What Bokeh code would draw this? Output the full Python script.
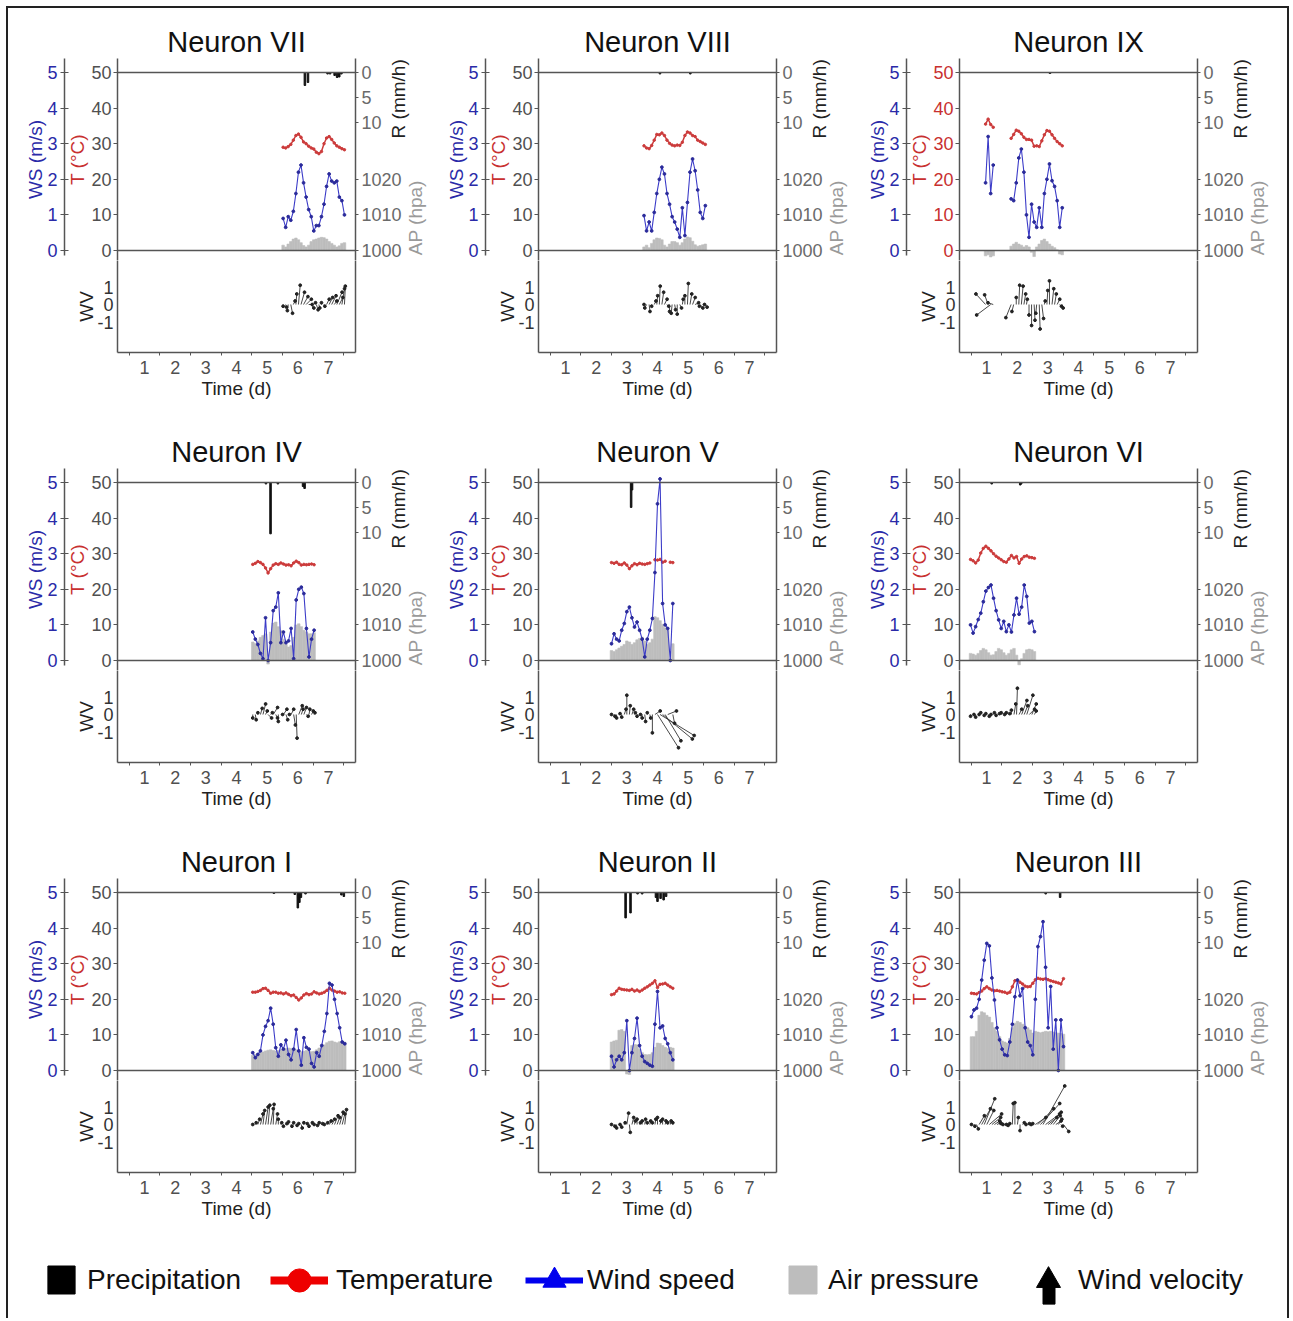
import math
import numpy as np
from bokeh.plotting import figure
from bokeh.models import Range1d, LinearAxis, FixedTicker, Span, Legend, LegendItem
from bokeh.layouts import column, row
from bokeh.embed import file_html
from bokeh.resources import INLINE

nan = float("nan")
STEP = 1.0 / 12.0   # 2-hour sampling, in days

# ---------------- data ----------------
# Neuron VII
VII_T0 = 5.52
VII_T = [29.0, 28.8, 29.2, 29.8, 31.0, 32.3, 32.7, 31.8, 30.5, 30.0, 29.3, 28.8, 28.5, 27.6, 27.2, 27.8, 30.0, 31.6, 32.0, 31.2, 30.2, 29.4, 29.0, 28.6, 28.3]
VII_WS = [0.9, 0.65, 0.95, 0.85, 1.1, 1.6, 2.2, 2.4, 1.9, 1.5, 1.15, 0.95, 0.55, 0.7, 0.7, 0.95, 1.3, 1.8, 2.15, 1.95, 1.9, 1.95, 1.5, 1.4, 1.0]
VII_AP = [1001.5, 1001.0, 1001.8, 1002.5, 1003.2, 1003.5, 1003.0, 1002.2, 1001.4, 1001.0, 1001.5, 1002.5, 1003.0, 1003.2, 1003.5, 1003.7, 1003.6, 1003.2, 1002.5, 1002.0, 1001.5, 1001.0, 1001.3, 1002.0, 1002.2]
VII_U = [0.0, 0.05, -0.05, 0.1, 0.1, 0.05, 0.1, 0.2, 0.25, 0.3, 0.2, 0.15, 0.1, 0.1, 0.05, 0.0, 0.05, 0.15, 0.2, 0.25, 0.15, 0.3, 0.2, 0.15, 0.05]
VII_V = [-0.1, -0.15, -0.35, -0.5, 0.2, 0.6, 1.1, 0.7, 0.45, 0.3, 0.0, -0.2, 0.1, -0.3, -0.2, 0.1, -0.1, 0.3, 0.4, 0.5, 0.2, 0.7, 0.4, 0.9, 1.05]
VII_RAIN_T = [6.23, 6.33, 6.97, 7.05, 7.20, 7.28, 7.35, 7.42]
VII_RAIN_R = [2.6, 2.0, 0.3, 0.3, 0.6, 1.0, 0.9, 0.3]

# Neuron VIII
VIII_T0 = 3.56
VIII_T = [29.4, 28.8, 28.6, 29.5, 31.0, 32.6, 32.5, 33.0, 32.3, 31.0, 30.1, 29.6, 29.4, 29.6, 29.5, 30.4, 32.3, 33.3, 33.0, 32.3, 32.0, 31.0, 30.6, 30.2, 29.8]
VIII_WS = [0.98, 0.55, 0.8, 0.55, 1.07, 1.6, 2.0, 2.34, 2.15, 1.6, 1.3, 0.95, 0.8, 0.6, 0.37, 1.2, 0.42, 1.35, 2.2, 2.57, 2.24, 1.7, 1.07, 0.9, 1.26]
VIII_AP = [1001.0, 1001.5, 1000.8, 1002.0, 1003.0, 1003.5, 1003.4, 1003.0, 1001.5, 1001.0, 1001.8, 1002.5, 1002.5, 1002.2, 1001.5, 1002.2, 1003.2, 1003.8, 1003.6, 1002.6, 1001.6, 1001.2, 1001.4, 1001.6, 1001.8]
VIII_U = [0.0, -0.1, 0.05, 0.0, 0.1, 0.05, 0.05, 0.1, 0.15, 0.1, 0.0, -0.05, 0.05, 0.0, 0.1, 0.05, 0.0, 0.05, 0.1, 0.15, 0.2, 0.1, 0.15, 0.1, 0.1]
VIII_V = [0.0, -0.2, -0.4, -0.1, 0.2, 0.5, 1.05, 0.7, 0.3, -0.1, -0.4, -0.5, -0.3, -0.55, -0.2, 0.3, 0.5, 1.2, 0.6, 0.4, 0.1, -0.1, -0.2, 0.0, -0.15]
VIII_RAIN_T = [4.08, 5.07]
VIII_RAIN_R = [0.3, 0.3]

# Neuron IX
IX_T0 = 0.97
IX_T = [35.5, 36.9, 35.4, 34.6, nan, nan, nan, nan, nan, nan, 31.5, 32.6, 33.8, 33.5, 32.8, 31.8, 31.2, 31.2, 31.0, 29.3, 29.4, 29.2, 30.8, 32.5, 33.7, 33.5, 32.5, 31.5, 30.6, 30.0, 29.4]
IX_WS = [1.9, 3.2, 1.6, 2.4, nan, nan, nan, nan, nan, nan, 1.45, 1.4, 1.9, 2.6, 2.85, 2.2, 1.0, 0.37, 1.3, 0.8, 0.65, 1.2, 0.65, 1.6, 2.0, 2.43, 1.96, 1.8, 1.4, 0.65, 1.2]
IX_AP = [998.5, 998.8, 998.2, 998.5, nan, nan, nan, nan, nan, nan, 1001.2, 1001.8, 1002.3, 1001.8, 1001.5, 1001.0, 1001.4, 1001.0, 999.5, 998.3, 1001.0, 1001.8, 1002.8, 1003.2, 1002.5, 1001.8, 1001.2, 1000.8, 1000.2, 999.0, 998.8]
IX_U = [-0.55, -0.2, -0.8, -0.3, nan, nan, nan, nan, nan, nan, -0.3, -0.1, 0.0, 0.05, 0.1, 0.1, 0.05, 0.0, 0.0, 0.05, -0.05, 0.05, 0.1, 0.05, 0.05, 0.0, 0.1, 0.1, 0.15, 0.1, 0.05]
IX_V = [0.6, 0.55, -0.6, 0.1, nan, nan, nan, nan, nan, nan, -0.75, -0.4, 0.4, 1.1, 1.05, 0.6, 0.3, -0.6, -1.2, -0.9, -0.5, -1.4, -0.8, 0.2, 0.8, 1.35, 0.9, 0.6, 0.3, -0.1, -0.2]
IX_RAIN_T = [3.07]
IX_RAIN_R = [0.2]

# Neuron IV
IV_T0 = 4.53
IV_T = [27.0, 27.3, 27.8, 27.5, 27.0, 26.0, 24.6, 25.8, 26.8, 27.2, 27.0, 27.4, 27.1, 26.8, 26.9, 26.6, 27.4, 27.9, 27.5, 26.8, 27.0, 26.9, 27.0, 27.1, 26.9]
IV_WS = [0.8, 0.6, 0.45, 0.2, 0.05, 1.2, 0.0, 0.5, 1.4, 1.5, 1.9, 0.5, 0.8, 0.5, 0.55, 0.9, 0.05, 1.7, 2.0, 2.06, 1.88, 0.9, 0.1, 0.6, 0.85]
IV_AP = [1005.2, 1004.8, 1005.5, 1006.5, 1007.0, 1007.5, 999.0, 1008.0, 1010.5, 1010.8, 1009.5, 1008.4, 1006.0, 1004.5, 1003.8, 1004.2, 1006.5, 1010.0, 1010.3, 1009.5, 1008.5, 1008.0, 1007.5, 1007.5, 1007.8]
IV_U = [0.0, 0.05, 0.0, 0.1, 0.15, 0.1, 0.2, 0.1, 0.25, 0.1, 0.0, 0.1, 0.2, 0.1, 0.05, 0.15, 0.1, 0.05, 0.2, 0.1, 0.15, 0.1, 0.05, 0.1, 0.05]
IV_V = [-0.2, -0.3, 0.1, 0.35, 0.6, 0.2, -0.2, 0.1, 0.4, -0.2, -0.4, 0.0, 0.3, -0.3, 0.0, 0.3, -0.6, -1.35, 0.5, 0.3, 0.4, -0.1, 0.3, 0.2, 0.1]
IV_RAIN_T = [4.96, 5.11, 5.35, 6.17, 6.22]
IV_RAIN_R = [0.3, 10.3, 0.3, 0.8, 1.2]

# Neuron V
V_T0 = 2.50
V_T = [27.5, 27.3, 27.6, 27.0, 26.9, 27.4, 26.8, 25.8, 26.6, 27.2, 26.9, 27.3, 27.1, 27.0, 27.2, 27.4, nan, 28.3, 28.2, 28.4, 27.6, 27.9, nan, 27.6, 27.5]
V_WS = [0.47, 0.75, 0.6, 0.55, 0.85, 1.04, 1.37, 1.5, 1.2, 0.94, 1.08, 0.85, 0.6, 0.1, 0.6, 0.85, 1.18, 2.47, 4.4, 5.1, 1.6, 1.0, 0.9, 0.0, 1.6]
V_AP = [1002.8, 1002.5, 1003.0, 1003.5, 1004.0, 1004.5, 1005.5, 1005.2, 1004.5, 1005.0, 1005.8, 1006.2, 1006.6, 1005.5, 1004.5, 1005.0, 1006.0, 1012.3, 1012.0, 1011.2, 1010.2, 1009.2, 1008.5, nan, 1004.7]
V_U = [0.0, 0.05, 0.0, 0.05, 0.0, 0.1, 0.0, 0.05, 0.1, 0.05, 0.0, 0.05, 0.0, 0.05, 0.0, 0.05, 0.0, 0.3, 1.2, 1.95, 1.7, 0.9, 0.5, nan, 0.1]
V_V = [0.0, -0.1, -0.2, 0.05, -0.15, 0.3, 1.1, 0.5, 0.3, 0.1, -0.1, 0.0, -0.2, -0.4, 0.1, -0.2, -1.05, 0.2, -1.9, -1.2, -1.4, -1.5, 0.2, nan, -0.5]
V_RAIN_T = [3.14, 3.17]
V_RAIN_R = [5.0, 1.5]

# Neuron VI
VI_T0 = 0.48
VI_T = [28.4, 28.0, 27.4, 28.2, 30.2, 31.5, 32.1, 31.5, 30.8, 30.0, 29.3, 28.8, 28.3, 27.8, 27.6, 28.5, 29.5, 28.8, 29.2, 27.3, 28.5, 29.2, 29.4, 29.0, 28.9, 28.7]
VI_WS = [1.0, 0.77, 0.95, 1.15, 1.33, 1.65, 1.95, 2.05, 2.12, 1.75, 1.4, 1.14, 0.9, 1.1, 0.81, 1.0, 0.8, 1.28, 1.75, 1.3, 1.5, 2.12, 1.8, 1.05, 1.1, 0.81]
VI_AP = [1002.0, 1001.8, 1001.5, 1002.0, 1002.8, 1003.4, 1003.0, 1002.2, 1001.5, 1001.6, 1002.5, 1003.4, 1003.0, 1002.2, 1001.5, 1002.0, 1003.0, 1003.4, 1001.5, 998.8, 1000.5, 1002.0, 1003.0, 1003.2, 1003.0, 1002.5]
VI_U = [0.0, 0.05, 0.0, 0.05, 0.0, 0.05, 0.0, 0.05, 0.0, 0.05, 0.0, 0.05, 0.0, 0.05, 0.0, 0.05, 0.0, 0.1, 0.05, 0.15, 0.3, 0.2, 0.35, 0.3, 0.25, 0.1]
VI_V = [-0.1, 0.0, -0.15, 0.0, 0.1, -0.05, 0.05, -0.1, 0.0, 0.1, -0.05, 0.05, 0.1, 0.0, 0.1, 0.05, 0.25, 0.6, 1.5, 0.3, 0.8, 0.5, 1.1, 0.3, 0.6, 0.2]
VI_RAIN_T = [1.17, 2.10, 2.13]
VI_RAIN_R = [0.3, 0.5, 0.3]

# Neuron I
I_T0 = 4.53
I_T = [22.0, 22.0, 22.2, 22.5, 23.0, 23.1, 22.5, 21.7, 22.0, 22.0, 21.7, 21.8, 21.5, 21.8, 21.4, 21.0, 21.2, 20.5, 19.8, 20.4, 21.2, 21.6, 21.3, 21.5, 22.1, 21.8, 21.5, 21.7, 22.0, 22.5, 23.1, 22.6, 22.3, 22.0, 22.1, 21.8, 21.7]
I_WS = [0.5, 0.36, 0.45, 0.55, 1.0, 1.24, 1.4, 1.75, 1.3, 0.64, 0.4, 0.72, 0.6, 0.85, 0.45, 0.3, 0.6, 1.15, 0.55, 0.15, 0.92, 0.65, 0.6, 0.2, 0.1, 0.5, 0.4, 0.7, 1.1, 1.6, 2.45, 2.4, 2.0, 1.6, 1.2, 0.8, 0.75]
I_AP = [1004.3, 1004.5, 1004.8, 1005.0, 1005.2, 1005.5, 1005.7, 1005.8, 1005.6, 1005.5, 1005.6, 1005.8, 1006.0, 1006.2, 1006.3, 1006.2, 1006.0, 1005.8, 1005.5, 1005.3, 1005.4, 1005.6, 1005.5, 1005.3, 1005.4, 1005.8, 1006.3, 1006.8, 1007.2, 1007.8, 1008.2, 1008.3, 1008.0, 1007.8, 1008.1, 1008.3, 1008.0]
I_U = [0.0, 0.05, 0.1, 0.15, 0.1, 0.15, 0.1, 0.15, 0.05, 0.1, 0.0, 0.05, 0.0, 0.05, 0.0, 0.05, 0.0, 0.05, 0.0, 0.05, 0.0, 0.05, 0.0, 0.05, 0.0, 0.05, 0.0, 0.05, 0.0, 0.05, 0.1, 0.15, 0.2, 0.15, 0.2, 0.15, 0.1]
I_V = [0.0, 0.1, 0.3, 0.6, 0.8, 1.0, 1.1, 0.9, 1.15, 0.6, 0.3, 0.1, -0.1, 0.05, 0.15, -0.1, 0.1, -0.05, 0.05, -0.2, 0.1, 0.05, -0.1, 0.1, 0.0, -0.05, 0.1, 0.05, 0.0, 0.1, 0.2, 0.3, 0.5, 0.4, 0.7, 0.6, 0.85]
I_RAIN_T = [5.22, 5.90, 6.00, 6.05, 6.10, 6.25, 7.42, 7.50]
I_RAIN_R = [0.2, 0.4, 3.1, 2.0, 1.0, 0.3, 0.5, 0.8]

# Neuron II
II_T0 = 2.50
II_T = [21.3, 21.5, 22.3, 23.1, 22.8, 22.7, 22.6, 22.5, 22.8, 22.3, 22.6, 22.2, 22.6, 23.1, 23.5, 24.0, 24.5, 25.2, 23.3, 24.2, 24.3, 24.5, 24.0, 23.5, 23.1]
II_WS = [0.4, 0.1, 0.3, 0.4, 0.3, 0.5, 1.4, 0.0, 0.5, 0.9, 1.47, 0.7, 0.4, 0.25, 0.2, 0.15, 0.12, 1.3, 2.22, 1.2, 1.25, 0.9, 0.75, 0.5, 0.3]
II_AP = [1008.0, 1008.3, 1008.5, 1011.3, 1011.5, 1011.0, 999.0, 998.9, 1007.0, 1007.3, 1007.2, 1006.0, 1005.0, 1004.5, 1004.4, 1004.5, 1005.0, 1006.5, 1007.7, 1007.6, 1007.0, 1006.5, 1006.2, 1006.5, 1006.3]
II_U = [0.0, 0.05, 0.0, 0.05, 0.0, 0.05, 0.1, 0.05, 0.1, 0.05, 0.0, 0.05, 0.0, 0.05, 0.0, 0.05, 0.0, 0.05, 0.0, 0.05, 0.0, 0.05, 0.0, 0.05, 0.0]
II_V = [0.0, -0.1, -0.2, 0.0, -0.15, 0.1, 0.65, -0.45, 0.4, 0.2, 0.3, 0.1, 0.2, 0.3, 0.1, 0.2, 0.1, 0.3, 0.4, 0.2, 0.3, 0.2, 0.1, 0.2, 0.1]
II_RAIN_T = [2.96, 3.12, 3.35, 3.50, 3.95, 4.00, 4.10, 4.20, 4.28]
II_RAIN_R = [5.1, 4.1, 0.3, 0.3, 1.0, 1.8, 1.2, 1.5, 0.8]

# Neuron III
III_T0 = 0.51
III_T = [21.7, 21.6, 21.5, 21.9, 22.3, 23.0, 23.5, 23.0, 22.6, 22.4, 22.5, 22.3, 22.1, 22.0, 21.7, 22.0, 23.5, 25.2, 25.4, 24.8, 24.3, 23.7, 23.5, 23.6, 24.5, 25.5, 25.9, 25.7, 25.6, 25.8, 25.5, 25.2, 25.0, 24.8, 24.6, 24.3, 25.8]
III_WS = [1.51, 1.7, 1.75, 2.0, 2.54, 3.1, 3.57, 3.5, 2.6, 1.98, 1.2, 0.86, 0.6, 0.44, 0.42, 0.8, 1.3, 2.07, 2.54, 2.1, 2.3, 1.2, 0.8, 0.7, 0.44, 2.0, 3.48, 3.76, 4.18, 2.9, 1.2, 2.36, 0.6, 1.42, 0.0, 1.42, 0.67]
III_AP = [1009.5, 1009.5, 1011.0, 1015.5, 1016.5, 1016.2, 1015.5, 1015.0, 1013.5, 1012.0, 1011.0, 1009.5, 1008.3, 1008.0, 1007.7, 1009.0, 1012.0, 1013.3, 1013.8, 1013.5, 1013.0, 1012.5, 1012.0, 1011.4, 1010.5, 1011.0, 1010.8, 1010.6, 1010.8, 1011.0, 1010.9, 1011.0, 1010.8, 1010.6, 1010.5, 1010.4, 1010.2]
III_U = [0.0, 0.05, 0.1, 0.3, 0.5, 0.6, 0.4, 0.7, 0.5, 0.3, 0.2, 0.1, 0.05, 0.1, 0.05, 0.0, 0.05, 0.0, 0.05, 0.0, 0.1, 0.05, 0.1, 0.05, 0.0, 0.6, 0.9, 1.1, 1.24, 0.8, 0.5, 0.6, 0.4, 0.3, 0.2, 0.1, 0.3]
III_V = [0.0, -0.1, -0.25, 0.5, 0.9, 1.47, 0.8, 0.6, 0.4, 0.2, 0.1, 0.05, 0.0, 0.0, -0.05, 0.05, 1.2, 1.25, 0.4, -0.35, 0.1, 0.0, 0.05, 0.0, 0.05, 0.4, 0.9, 1.2, 2.2, 0.6, 0.4, 0.7, 0.5, 0.2, 0.3, -0.1, -0.4]
III_RAIN_T = [2.93, 3.40]
III_RAIN_R = [0.3, 1.0]

# grid order (rows top to bottom)
PANEL_ROWS = [
    [("VII", VII_T0, VII_T, VII_WS, VII_AP, VII_U, VII_V, VII_RAIN_T, VII_RAIN_R),
     ("VIII", VIII_T0, VIII_T, VIII_WS, VIII_AP, VIII_U, VIII_V, VIII_RAIN_T, VIII_RAIN_R),
     ("IX", IX_T0, IX_T, IX_WS, IX_AP, IX_U, IX_V, IX_RAIN_T, IX_RAIN_R)],
    [("IV", IV_T0, IV_T, IV_WS, IV_AP, IV_U, IV_V, IV_RAIN_T, IV_RAIN_R),
     ("V", V_T0, V_T, V_WS, V_AP, V_U, V_V, V_RAIN_T, V_RAIN_R),
     ("VI", VI_T0, VI_T, VI_WS, VI_AP, VI_U, VI_V, VI_RAIN_T, VI_RAIN_R)],
    [("I", I_T0, I_T, I_WS, I_AP, I_U, I_V, I_RAIN_T, I_RAIN_R),
     ("II", II_T0, II_T, II_WS, II_AP, II_U, II_V, II_RAIN_T, II_RAIN_R),
     ("III", III_T0, III_T, III_WS, III_AP, III_U, III_V, III_RAIN_T, III_RAIN_R)],
]
RED_T_TICKS = {"IX"}

T_TICKS = [0, 10, 20, 30, 40, 50]
WS_TICKS = [0, 1, 2, 3, 4, 5]
AP_TICKS = [1000, 1010, 1020]
R_TICKS = [0, 5, 10]
WV_TICKS = [-1, 0, 1]
DAY_TICKS = [1, 2, 3, 4, 5, 6, 7]
HALF_DAY_TICKS = [0.5, 1.5, 2.5, 3.5, 4.5, 5.5, 6.5, 7.5]

# ---------------- styling / geometry ----------------
FONT = "Liberation Sans"
AXIS_COLOR = "#555555"
TICK_LABEL_COLOR = "#505050"
RIGHT_LABEL_COLOR = "#6a6a6a"
AP_LABEL_COLOR = "#9a9a9a"
T_COLOR = "#cc3b3b"
T_LABEL_COLOR = "#c83030"
WS_COLOR = "#3c3cc8"
WS_LABEL_COLOR = "#2a2aa8"
AP_COLOR = "#bdbdbd"
NBSP = "\u00a0"

X_START, X_END = 0.12, 7.88
FRAME_W = 238
COL_W = [432, 421, 426]
MB_LEFTS = [109, 98, 98]
MB_TOP = 50
PX_PER_T = 3.56
UP_H = 202
T_TOP = 50 + 14 / PX_PER_T
T_BOT = -10 / PX_PER_T
T_PER_MM = 1.4                      # rain axis: 1 mm/h spans 1.4 temperature units
LO_H = 92
PX_PER_WV = 17.5
WV_TOP = 44 / PX_PER_WV
WV_BOT = -(LO_H - 44) / PX_PER_WV
MB_BOTTOM = 66
WV_X = PX_PER_WV / (FRAME_W / (X_END - X_START))   # days per WV unit (isotropic sticks)


def rain_to_ap(r):
    return int(round(1000 + 50 - r * T_PER_MM))


def style_axis(ax, label_color=TICK_LABEL_COLOR, axis_label_color="#222222"):
    ax.axis_line_color = AXIS_COLOR
    ax.axis_line_width = 1.5
    ax.major_tick_line_color = AXIS_COLOR
    ax.major_tick_line_width = 1.2
    ax.minor_tick_line_color = None
    ax.major_label_text_font = FONT
    ax.major_label_text_font_size = "18px"
    ax.major_label_text_color = label_color
    ax.axis_label_text_font = FONT
    ax.axis_label_text_font_size = "19px"
    ax.axis_label_text_font_style = "normal"
    ax.axis_label_text_color = axis_label_color


def read_upward(ax):
    # right-side labels read bottom-to-top, like the left ones
    try:
        ax.axis_label_orientation = math.pi / 2
    except AttributeError:
        pass


def set_label_align(ax, where):
    try:
        ax.axis_label_align = where
    except AttributeError:
        pass


def make_panel(spec, col):
    name, t0, temp, ws, ap, wv_u, wv_v, rain_t, rain_r = spec
    t = t0 + np.arange(len(temp)) * STEP
    width = COL_W[col]
    mbl = MB_LEFTS[col]
    mbr = width - mbl - FRAME_W
    xr = Range1d(X_START, X_END)

    up = figure(width=width, height=MB_TOP + UP_H, x_range=xr, y_range=Range1d(T_BOT, T_TOP),
                min_border_left=mbl, min_border_right=mbr, min_border_top=MB_TOP, min_border_bottom=0,
                x_axis_location=None, y_axis_location=None, toolbar_location=None,
                output_backend="svg", title="Neuron " + name, outline_line_color=None)
    up.title.align = "center"
    up.title.text_font = FONT
    up.title.text_font_size = "29px"
    up.title.text_font_style = "normal"
    up.title.text_color = "#111111"
    up.title.standoff = 2
    up.extra_y_ranges = {
        "ws": Range1d(T_BOT / 10.0, T_TOP / 10.0),
        "ap": Range1d(1000 + T_BOT, 1000 + T_TOP),
        "r": Range1d((50 - T_BOT) / T_PER_MM, (50 - T_TOP) / T_PER_MM),
    }

    t_axis = LinearAxis(ticker=FixedTicker(ticks=T_TICKS), axis_label="T (°C)")
    style_axis(t_axis, T_LABEL_COLOR if name in RED_T_TICKS else TICK_LABEL_COLOR, T_LABEL_COLOR)
    t_axis.major_tick_out = 4
    t_axis.major_tick_in = 0
    t_axis.major_label_standoff = 2
    t_axis.axis_label_standoff = 0
    up.add_layout(t_axis, "left")

    ws_axis = LinearAxis(y_range_name="ws", ticker=FixedTicker(ticks=WS_TICKS), axis_label="WS (m/s)",
                         bounds=(-0.14, T_TOP / 10.0))
    style_axis(ws_axis, WS_LABEL_COLOR, WS_LABEL_COLOR)
    ws_axis.major_tick_out = 4
    ws_axis.major_tick_in = 4
    ws_axis.major_label_standoff = 3
    ws_axis.axis_label_standoff = -2
    up.add_layout(ws_axis, "left")

    # right: one axis line carrying both the pressure ticks and the rain ticks
    r_pos = [rain_to_ap(r) for r in R_TICKS]
    right_axis = LinearAxis(y_range_name="ap", ticker=FixedTicker(ticks=AP_TICKS + r_pos),
                            axis_label=NBSP * 4 + "R (mm/h)")
    style_axis(right_axis, RIGHT_LABEL_COLOR, "#222222")
    right_axis.major_label_overrides = {p: str(r) for p, r in zip(r_pos, R_TICKS)}
    right_axis.major_tick_out = 3
    right_axis.major_tick_in = 0
    right_axis.major_label_standoff = 3
    right_axis.axis_label_standoff = -6
    read_upward(right_axis)
    up.add_layout(right_axis, "right")

    ap_label_axis = LinearAxis(y_range_name="ap", ticker=FixedTicker(ticks=[]),
                               axis_label=NBSP + "AP (hpa)")
    style_axis(ap_label_axis, RIGHT_LABEL_COLOR, AP_LABEL_COLOR)
    ap_label_axis.axis_line_color = None
    ap_label_axis.axis_label_standoff = -7
    read_upward(ap_label_axis)
    set_label_align(ap_label_axis, "start")
    up.add_layout(ap_label_axis, "right")

    # air pressure (area from 1000 hPa)
    up.vbar(x=t, top=ap, bottom=1000, width=STEP, y_range_name="ap",
            fill_color=AP_COLOR, line_color=AP_COLOR, line_width=0.6)
    # precipitation (hanging from the top line)
    up.vbar(x=rain_t, top=0, bottom=rain_r, width=0.05, y_range_name="r",
            fill_color="#111111", line_color="#111111")
    # temperature
    up.line(t, temp, line_color=T_COLOR, line_width=1.5)
    up.scatter(t, temp, size=2.5, color=T_COLOR)
    # wind speed
    up.line(t, ws, y_range_name="ws", line_color=WS_COLOR, line_width=1.1)
    up.scatter(t, ws, y_range_name="ws", size=2.8, color="#2a2a9a")

    for loc in (0, 50):
        up.add_layout(Span(location=loc, dimension="width", line_color=AXIS_COLOR, line_width=1.5))

    lo = figure(width=width, height=LO_H + MB_BOTTOM, x_range=xr, y_range=Range1d(WV_BOT, WV_TOP),
                min_border_left=mbl, min_border_right=mbr, min_border_top=0, min_border_bottom=MB_BOTTOM,
                x_axis_location=None, y_axis_location=None, toolbar_location=None,
                output_backend="svg", outline_line_color=None)
    x_axis = LinearAxis(ticker=FixedTicker(ticks=DAY_TICKS, minor_ticks=HALF_DAY_TICKS), axis_label="Time (d)")
    style_axis(x_axis)
    x_axis.major_tick_out = 0
    x_axis.major_tick_in = 0
    x_axis.minor_tick_line_color = AXIS_COLOR
    x_axis.minor_tick_out = 3
    x_axis.minor_tick_in = 0
    x_axis.major_label_standoff = 5
    x_axis.axis_label_standoff = 1
    lo.add_layout(x_axis, "below")

    wv_axis = LinearAxis(ticker=FixedTicker(ticks=WV_TICKS), axis_label="WV")
    style_axis(wv_axis, "#333333")
    wv_axis.major_label_overrides = {k: str(k) for k in WV_TICKS}
    wv_axis.major_tick_out = 0
    wv_axis.major_tick_in = 0
    wv_axis.major_label_standoff = 4
    wv_axis.axis_label_standoff = -3
    lo.add_layout(wv_axis, "left")

    edge = LinearAxis(ticker=FixedTicker(ticks=[]))
    style_axis(edge)
    lo.add_layout(edge, "right")

    u = np.asarray(wv_u, dtype=float)
    v = np.asarray(wv_v, dtype=float)
    tips_x = t + u * WV_X
    lo.segment(x0=t, y0=np.zeros(len(t)), x1=tips_x, y1=v, line_color="#333333", line_width=0.9)
    lo.scatter(tips_x, v, size=2.8, color="#222222")

    for f in (up, lo):
        f.grid.visible = False
        f.background_fill_color = "white"
        f.border_fill_color = "white"
    return column(up, lo)


rows = []
for specs in PANEL_ROWS:
    rows.append(row(*[make_panel(s, i) for i, s in enumerate(specs)]))

# ---------------- legend ----------------
LEG_W = sum(COL_W)
lg = figure(width=LEG_W, height=80, x_range=Range1d(0, 1), y_range=Range1d(0, 1),
            x_axis_location=None, y_axis_location=None, toolbar_location=None,
            output_backend="svg", min_border=0, outline_line_color=None)
lg.grid.visible = False
NO_DATA = [nan]   # legend-only renderers: nothing is drawn in the frame
r_prec = lg.vbar(x=NO_DATA, top=NO_DATA, width=1, fill_color="black", line_color="black")
r_tl = lg.line(x=NO_DATA, y=NO_DATA, line_color="#ee0000", line_width=8)
r_tc = lg.scatter(x=NO_DATA, y=NO_DATA, marker="circle", fill_color="#ee0000", line_color="#ee0000")
r_wl = lg.line(x=NO_DATA, y=NO_DATA, line_color="#0000ee", line_width=6)
r_wt = lg.scatter(x=NO_DATA, y=NO_DATA, marker="triangle", fill_color="#0000ee", line_color="#0000ee")
r_ap = lg.vbar(x=NO_DATA, top=NO_DATA, width=1, fill_color="#bdbdbd", line_color="#bdbdbd")
r_head = lg.scatter(x=NO_DATA, y=NO_DATA, marker="triangle", fill_color="black", line_color="black")
r_stem = lg.vbar(x=NO_DATA, top=NO_DATA, width=1, fill_color="black", line_color="black")


def add_legend(label, renderers, loc, gw, gh, standoff):
    leg = Legend(items=[LegendItem(label=label, renderers=renderers)], location=loc,
                 orientation="horizontal", glyph_width=gw, glyph_height=gh, label_height=gh,
                 label_standoff=standoff, label_text_font=FONT, label_text_font_size="28px",
                 label_text_color="#111111", padding=0, margin=0, spacing=0,
                 border_line_color=None, background_fill_alpha=0)
    lg.add_layout(leg, "center")


add_legend("Precipitation", [r_prec], (36, 21), 34, 35, 9)
add_legend("Temperature", [r_tl, r_tc], (262, 3), 58, 70, 8)
add_legend("Wind speed", [r_wl, r_wt], (517, 3), 58, 70, 4)
add_legend("Air pressure", [r_ap], (777, 21), 35, 35, 8)
add_legend("Wind velocity", [r_head], (1010, 8), 60, 60, -4)
add_legend("", [r_stem], (1033, 12), 15, 24, 0)

layout = column(*rows, lg, margin=(6, 0, 0, 6),
                styles={"border-top": "2px solid #222", "border-left": "2px solid #222",
                        "border-right": "2px solid #222"})

with open("out.html", "w") as fh:
    fh.write(file_html(layout, INLINE))
